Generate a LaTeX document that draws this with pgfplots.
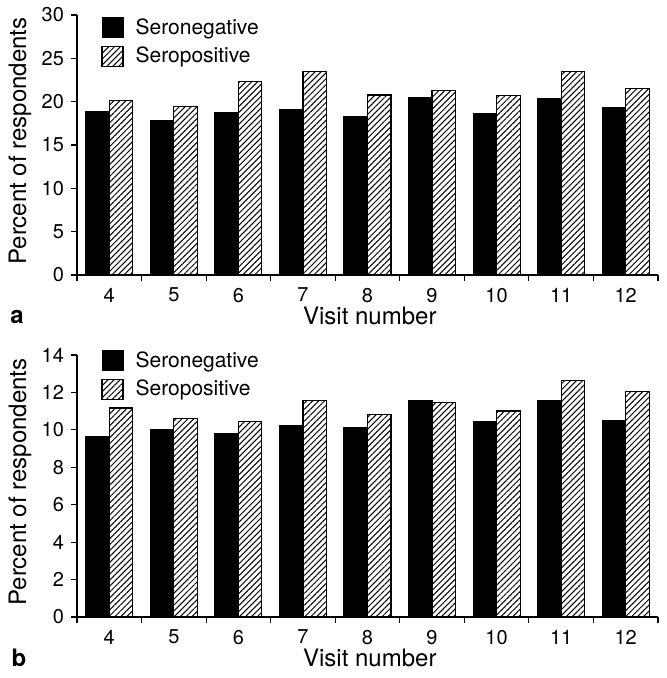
\documentclass[border=0pt]{standalone}
\usepackage{fontspec}
\setmainfont{TeX Gyre Heros}
\usepackage{pgfplots}
\pgfplotsset{compat=1.18}
\usetikzlibrary{patterns.meta}

\pgfplotsset{
  myaxis/.style={
    scale only axis, width=290.5pt,
    xmin=3.5, xmax=12.5, ymin=0,
    axis x line*=bottom, axis y line*=left,
    axis line style={line width=0.8pt, black},
    tick align=outside, major tick length=3pt,
    tick style={line width=0.6pt, black},
    xtick={3.5,4.5,...,12.5}, xticklabels={},
    extra x ticks={4,5,...,12},
    extra x tick labels={4,5,6,7,8,9,10,11,12},
    extra x tick style={tick style={draw=none}},
    /pgf/number format/assume math mode=true,
    tick label style={font=\fontsize{10}{12}\selectfont},
    ylabel={Percent of respondents}, xlabel={Visit number},
    label style={font=\fontsize{12}{14}\selectfont},
    ylabel style={at={(axis description cs:-0.098,0.515)}, anchor=center},
    xlabel style={at={(axis description cs:0.504,0)}, anchor=center, yshift=-20.5pt},
    ybar, bar width=0.364,
    legend cell align=left,
    legend style={draw=none, fill=none, at={(rel axis cs:0,1)}, anchor=north west,
      xshift=12pt, inner sep=0pt, row sep=1pt,
      /tikz/every odd column/.append style={column sep=4pt},
      font=\fontsize{10.5}{12}\selectfont},
    clip=false,
  },
  negbar/.style={fill=black, draw=black, line width=0.5pt, bar shift=-0.182,
    legend image code/.code={\draw[fill=black,draw=black,line width=0.5pt] (0pt,-5pt) rectangle (10.5pt,5pt);}},
  posbar/.style={draw=black, line width=0.6pt, bar shift=0.182,
    pattern={Lines[angle=45,distance=2.1pt,line width=0.5pt]},
    legend image code/.code={\draw[draw=black,line width=0.6pt,pattern={Lines[angle=45,distance=2.1pt,line width=0.5pt]}] (0pt,-5pt) rectangle (10.5pt,5pt);}},
}

\begin{document}
\begin{tikzpicture}
\path[use as bounding box] (-38.5pt,137.5pt) rectangle (294.5pt,-201.5pt);

\begin{axis}[myaxis, height=130pt, ymax=30, ytick={0,5,...,30},
  legend style={yshift=0.5pt}]
\addplot[negbar] coordinates {(4,18.85) (5,17.85) (6,18.73) (7,19.15) (8,18.30) (9,20.46) (10,18.58) (11,20.38) (12,19.30)};
\addplot[posbar] coordinates {(4,20.10) (5,19.46) (6,22.35) (7,23.50) (8,20.77) (9,21.30) (10,20.73) (11,23.46) (12,21.54)};
\legend{Seronegative, Seropositive}
\node[font=\bfseries\fontsize{12}{14}\selectfont, xshift=-30pt, yshift=-21pt] at (rel axis cs:0,0) {a};
\end{axis}

\begin{axis}[myaxis, at={(0pt,-171pt)}, height=131pt, ymax=14, ytick={0,2,...,14},
  legend style={yshift=4pt}]
\addplot[negbar] coordinates {(4,9.64) (5,10.04) (6,9.79) (7,10.21) (8,10.14) (9,11.57) (10,10.44) (11,11.57) (12,10.50)};
\addplot[posbar] coordinates {(4,11.17) (5,10.62) (6,10.44) (7,11.58) (8,10.80) (9,11.46) (10,11.01) (11,12.63) (12,12.05)};
\legend{Seronegative, Seropositive}
\node[font=\bfseries\fontsize{12}{14}\selectfont, xshift=-29pt, yshift=-20.5pt] at (rel axis cs:0,0) {b};
\end{axis}
\end{tikzpicture}
\end{document}
